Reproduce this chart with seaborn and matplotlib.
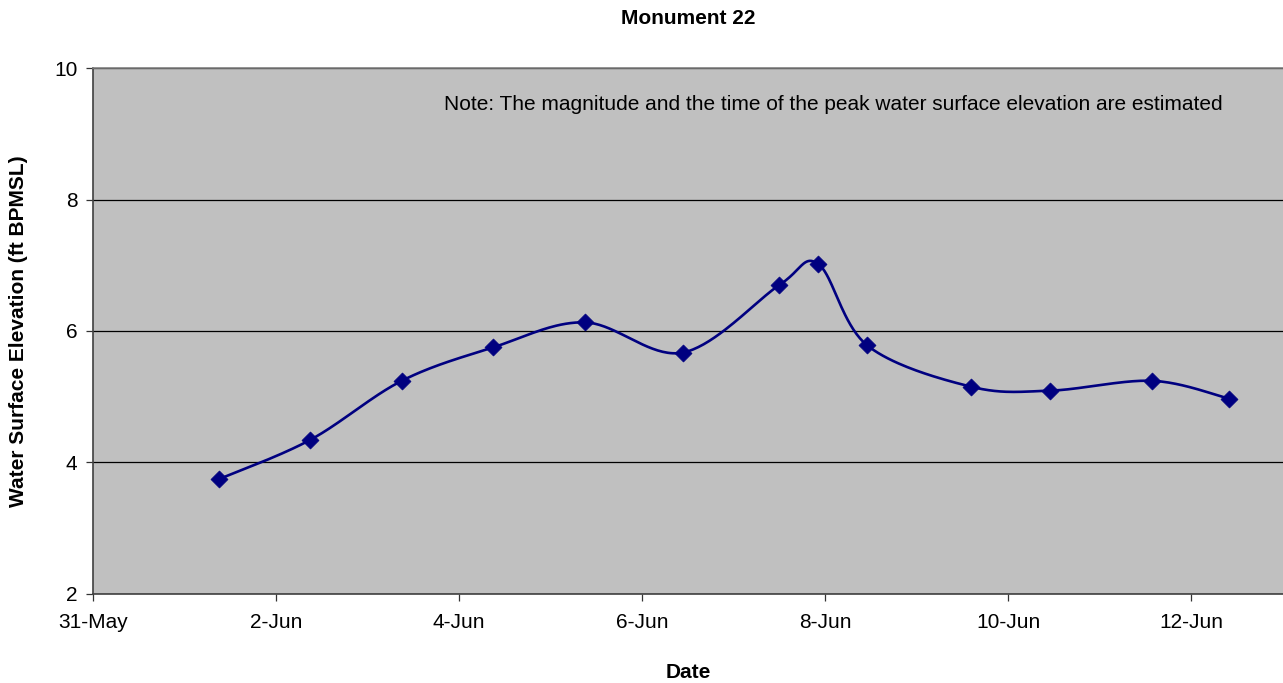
import numpy as np
import pandas as pd
import matplotlib
matplotlib.use("Agg")
import matplotlib.pyplot as plt
import matplotlib.dates as mdates
import seaborn as sns

sns.set_theme(style="white")
plt.rcParams['font.family'] = ['Liberation Sans', 'DejaVu Sans']

obs_time = ["2008-06-01 09:00", "2008-06-02 09:00", "2008-06-03 09:00",
            "2008-06-04 09:00", "2008-06-05 09:00", "2008-06-06 10:40",
            "2008-06-07 12:00", "2008-06-07 22:10", "2008-06-08 11:00",
            "2008-06-09 14:15", "2008-06-10 11:00", "2008-06-11 13:45",
            "2008-06-12 09:45"]
wse = [3.74, 4.34, 5.24, 5.75, 6.13, 5.67, 6.70, 7.02, 5.78, 5.15, 5.09, 5.24, 4.97]

title = "Monument 22"
xlabel = "Date"
ylabel = "Water Surface Elevation (ft BPMSL)"
note = "Note: The magnitude and the time of the peak water surface elevation are estimated"
xtick_dates = ["2008-05-31", "2008-06-02", "2008-06-04", "2008-06-06",
               "2008-06-08", "2008-06-10", "2008-06-12"]
xtick_labels = ["31-May", "2-Jun", "4-Jun", "6-Jun", "8-Jun", "10-Jun", "12-Jun"]
yticks = [2, 4, 6, 8, 10]

df = pd.DataFrame({"time": pd.to_datetime(obs_time), "wse": wse})


# Excel-style smoothed line (Catmull-Rom bezier through the points)
def smooth(xs, ys, n=40):
    xs = np.asarray(xs, float)
    ys = np.asarray(ys, float)
    px = np.concatenate([[xs[0]], xs, [xs[-1]]])
    py = np.concatenate([[ys[0]], ys, [ys[-1]]])
    out_x, out_y = [], []
    t = np.linspace(0, 1, n)
    for i in range(1, len(px) - 2):
        p0x, p0y = px[i], py[i]
        p3x, p3y = px[i + 1], py[i + 1]
        p1x = p0x + (px[i + 1] - px[i - 1]) / 6
        p1y = p0y + (py[i + 1] - py[i - 1]) / 6
        p2x = p3x - (px[i + 2] - px[i]) / 6
        p2y = p3y - (py[i + 2] - py[i]) / 6
        bx = (1 - t) ** 3 * p0x + 3 * (1 - t) ** 2 * t * p1x + 3 * (1 - t) * t ** 2 * p2x + t ** 3 * p3x
        by = (1 - t) ** 3 * p0y + 3 * (1 - t) ** 2 * t * p1y + 3 * (1 - t) * t ** 2 * p2y + t ** 3 * p3y
        out_x.extend(bx)
        out_y.extend(by)
    return np.array(out_x), np.array(out_y)


xnum = mdates.date2num(df["time"])
sx, sy = smooth(xnum, df["wse"])
curve = pd.DataFrame({"time": pd.to_datetime(mdates.num2date(sx)).tz_localize(None), "wse": sy})

fig = plt.figure(figsize=(12.83, 6.83), dpi=100)
ax = fig.add_axes([0.0723, 0.131, 0.9277, 0.769])
ax.set_facecolor("#C0C0C0")

sns.lineplot(data=curve, x="time", y="wse", sort=False, color="#000080",
             linewidth=1.9, ax=ax, zorder=3)
sns.scatterplot(data=df, x="time", y="wse", marker="D", s=75, color="#000080",
                edgecolor="#000080", linewidth=0.5, ax=ax, zorder=4)

ax.set_xlim(pd.Timestamp("2008-05-31"), pd.Timestamp("2008-06-13"))
ax.set_ylim(2, 10)
ax.set_yticks(yticks)
ax.set_yticklabels([str(v) for v in yticks])
ax.set_xticks(pd.to_datetime(xtick_dates))
ax.set_xticklabels(xtick_labels)
ax.yaxis.grid(True, color="black", linewidth=0.9)
ax.xaxis.grid(False)
ax.set_axisbelow(True)

ax.tick_params(axis="both", which="major", labelsize=15, direction="out",
               length=5, width=0.9, color="#333333", labelcolor="black",
               bottom=True, left=True, pad=6)
ax.tick_params(axis="x", pad=9)

for s in ["left", "bottom"]:
    ax.spines[s].set_color("#404040")
    ax.spines[s].set_linewidth(1.2)
ax.spines["top"].set_color("#808080")
ax.spines["top"].set_linewidth(1.2)
ax.spines["right"].set_visible(False)

ax.set_xlabel(xlabel, fontsize=15, fontweight="bold", color="black", va="center")
ax.xaxis.set_label_coords(0.5, -0.1495)
ax.set_ylabel(ylabel, fontsize=15, fontweight="bold", color="black", va="center")
ax.yaxis.set_label_coords(-0.0628, 0.5)
ax.set_title(title, fontsize=15, fontweight="bold", color="black", pad=32)

ax.text(0.2947, 0.932, note, transform=ax.transAxes, fontsize=15,
        ha="left", va="center", color="black")

fig.savefig("out.png", dpi=100)
